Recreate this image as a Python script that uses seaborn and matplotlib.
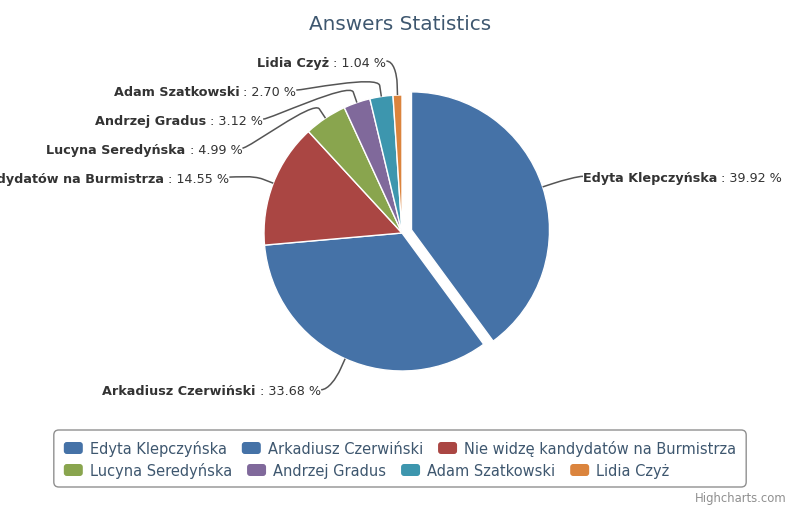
import math
import numpy as np
import pandas as pd
import matplotlib
matplotlib.use("Agg")
import matplotlib.pyplot as plt
import seaborn as sns
from matplotlib.path import Path
from matplotlib.patches import PathPatch, FancyBboxPatch

# ---------------- data ----------------
title = "Answers Statistics"
credit = "Highcharts.com"
names = ["Edyta Klepczyńska", "Arkadiusz Czerwiński",
         "Nie widzę kandydatów na Burmistrza", "Lucyna Seredyńska",
         "Andrzej Gradus", "Adam Szatkowski", "Lidia Czyż"]
shares = [39.92, 33.68, 14.55, 4.99, 3.12, 2.70, 1.04]
colors = ["#4572A7", "#4572A7", "#AA4643", "#89A54E", "#80699B", "#3D96AE", "#DB843D"]
sliced = [True, False, False, False, False, False, False]

df = pd.DataFrame({"name": names, "share": shares, "color": colors, "sliced": sliced})

# ---------------- layout (pixels) ----------------
W, H = 800, 510
CX, CY, R = 402, H - 234, 138
SLICE = 10
DIST = 34
SPACING = 29
PX = 0.72  # points per pixel at 100 dpi

sns.set_theme(style="white")
plt.rcParams["font.family"] = ["DejaVu Sans"]

fig = plt.figure(figsize=(W / 100, H / 100), dpi=100)
ax = fig.add_axes([0, 0, 1, 1])
wedges, _ = ax.pie(df["share"], colors=df["color"], startangle=90, counterclock=False,
                   radius=R, center=(CX, CY),
                   explode=[SLICE if s else 0 for s in df["sliced"]],
                   wedgeprops=dict(edgecolor="white", linewidth=1))
ax.set_xlim(0, W)
ax.set_ylim(0, H)
ax.set_aspect("auto")
ax.axis("off")

renderer = fig.canvas.get_renderer()
LABEL_COLOR = "#333333"
LFS = 12.8 * PX
D = R + DIST

# label info
info = []
for i, w in enumerate(wedges):
    mid = math.radians((w.theta1 + w.theta2) / 2)
    c, s = math.cos(mid), math.sin(mid)
    info.append(dict(i=i, c=c, s=s, left=c < 0, nat=CY + D * s,
                     tx=w.center[0] - CX, ty=w.center[1] - CY))

for half in (True, False):
    pts = sorted([p for p in info if p["left"] == half], key=lambda p: -p["nat"])
    prev = None
    for p in pts:
        y = p["nat"] if prev is None else min(p["nat"], prev - SPACING)
        p["y"] = y
        prev = y
        sign = -1 if half else 1
        if abs(y - p["nat"]) < 1e-6:
            gx = CX + D * p["c"]
        else:
            dy = max(-D, min(D, y - CY))
            gx = CX + sign * math.sqrt(D * D - dy * dy)
        p["gx"] = gx

for p in info:
    i = p["i"]
    sign = -1 if p["left"] else 1
    tx, ty = p["tx"], p["ty"]
    y = p["y"] + ty
    gx = p["gx"] + tx
    edge = gx + sign * (10 if p["left"] else 8)
    p4 = (CX + tx + R * p["c"], CY + ty + R * p["s"])
    p2 = (CX + tx + (R + 11) * p["c"], CY + ty + (R + 11) * p["s"])
    c2 = (2 * p2[0] - p4[0], 2 * p2[1] - p4[1])
    c1 = (gx + sign * 3, y)
    path = Path([(edge, y), c1, c2, p2, p4],
                [Path.MOVETO, Path.CURVE4, Path.CURVE4, Path.CURVE4, Path.LINETO])
    ax.add_patch(PathPatch(path, facecolor="none", edgecolor="#555555", lw=1.1))
    base = y - 4.7
    name = df["name"][i]
    pct = f" : {df['share'][i]:.2f} %"
    if p["left"]:
        t2 = ax.text(edge, base, pct, ha="right", va="baseline", fontsize=LFS, color=LABEL_COLOR)
        bb = t2.get_window_extent(renderer)
        ax.text(bb.x0, base, name, ha="right", va="baseline", fontsize=LFS,
                fontweight="bold", color=LABEL_COLOR)
    else:
        t1 = ax.text(edge, base, name, ha="left", va="baseline", fontsize=LFS,
                     fontweight="bold", color=LABEL_COLOR)
        bb = t1.get_window_extent(renderer)
        ax.text(bb.x1, base, pct, ha="left", va="baseline", fontsize=LFS, color=LABEL_COLOR)

# title
ax.text(W / 2, H - 23 - 7.3, title, ha="center", va="baseline", fontsize=20 * PX, color="#3E576F")

# legend (flow layout)
LEG_FS = 14.6 * PX
SYM_W, SYM_H, SYM_PAD, ITEM_GAP = 19, 12, 7, 15
MAXW = 720
items = []
for i in range(len(df)):
    t = ax.text(0, 0, df["name"][i], fontsize=LEG_FS)
    wtxt = t.get_window_extent(renderer).width
    t.remove()
    items.append(SYM_W + SYM_PAD + wtxt)
rows, cur, curw = [], [], 0
for i, wi in enumerate(items):
    add = wi if not cur else wi + ITEM_GAP
    if cur and curw + add > MAXW:
        rows.append(cur)
        cur, curw = [], 0
        add = wi
    cur.append(i)
    curw += add
rows.append(cur)
roww = [sum(items[j] for j in r) + ITEM_GAP * (len(r) - 1) for r in rows]
boxw = max(roww) + 20
bx0 = W / 2 - boxw / 2
row_y = [H - 449, H - 471]
for r, ry in zip(rows, row_y):
    x = bx0 + 10
    for j in r:
        ax.add_patch(FancyBboxPatch((x, ry - SYM_H / 2), SYM_W, SYM_H,
                                    boxstyle="round,pad=0,rounding_size=3",
                                    facecolor=df["color"][j], edgecolor="none"))
        ax.text(x + SYM_W + SYM_PAD, ry - 5.2, df["name"][j], ha="left", va="baseline",
                fontsize=LEG_FS, color="#3E576F")
        x += items[j] + ITEM_GAP
ax.add_patch(FancyBboxPatch((bx0, H - 488), boxw, 57,
                            boxstyle="round,pad=0,rounding_size=5",
                            facecolor="none", edgecolor="#909090", lw=1))

# credits
ax.text(787, H - 498 - 4, credit, ha="right", va="baseline", fontsize=11.6 * PX, color="#909090")

fig.savefig("out.png", dpi=100)
